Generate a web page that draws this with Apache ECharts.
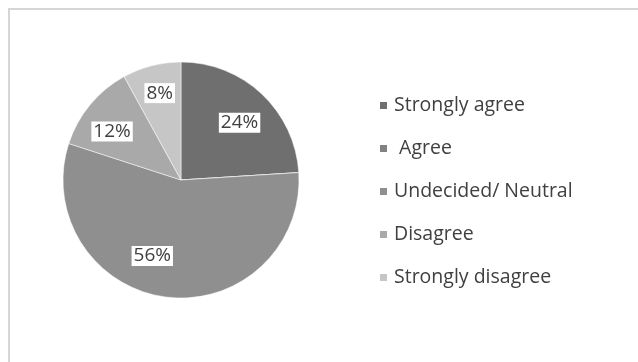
<!DOCTYPE html>
<html><head><meta charset="utf-8">
<script src="https://cdn.jsdelivr.net/npm/echarts@6/dist/echarts.min.js"></script>
<style>html,body{margin:0;padding:0;background:#fff}#c{width:638px;height:362px}</style>
</head><body><div id="c"></div>
<script>
var categories = ['Strongly agree', ' Agree', 'Undecided/ Neutral', 'Disagree', 'Strongly disagree'];
var values = [24, 0, 56, 12, 8];
var colors = ['#6f6f6f', '#828282', '#8f8f8f', '#a9a9a9', '#c6c6c6'];

var CX = 181, CY = 180, R = 118;
var chart = echarts.init(document.getElementById('c'));
var data = categories.map(function (c, i) {
  var d = { name: c, value: values[i], itemStyle: { color: colors[i] } };
  if (values[i] === 0) d.label = { show: false };
  return d;
});
chart.setOption({
  animation: false,
  graphic: [{
    type: 'rect', shape: { x: 9, y: 9, width: 640, height: 360 },
    style: { fill: 'none', stroke: '#d6d6d6', lineWidth: 2 }, z: -1
  }],
  legend: {
    orient: 'vertical', left: 373, top: 89,
    itemWidth: 9, itemHeight: 9, itemGap: 20,
    icon: 'rect',
    textStyle: { fontFamily: 'Open Sans', fontSize: 19.5, color: '#404040', lineHeight: 23, padding: [0, 0, 0, 1] },
    data: categories
  },
  series: [{
    type: 'pie', center: [CX, CY], radius: R, startAngle: 90,
    clockwise: true, minAngle: 0, avoidLabelOverlap: false,
    stillShowZeroSum: true,
    itemStyle: { borderColor: '#ffffff', borderWidth: 0.5 },
    label: {
      position: 'inside', formatter: '{d}%',
      fontFamily: 'Open Sans', fontSize: 19, color: '#404040',
      backgroundColor: '#ffffff', padding: [1, 2, 0, 2]
    },
    labelLine: { show: false },
    labelLayout: function (p) {
      var lx = p.labelRect.x + p.labelRect.width / 2;
      var ly = p.labelRect.y + p.labelRect.height / 2;
      var k = 0.38;
      var dx = (lx - CX) * k, dy = (ly - CY) * k;
      if (ly > CY + 40) { dx -= 18; dy -= 9; }
      else if (lx > CX) { dy += 5; }
      else if (lx > CX - 40) { dy -= 4; }
      else { dx -= 3; dy += 6; }
      return { dx: dx, dy: dy };
    },
    data: data
  }]
});
</script></body></html>
